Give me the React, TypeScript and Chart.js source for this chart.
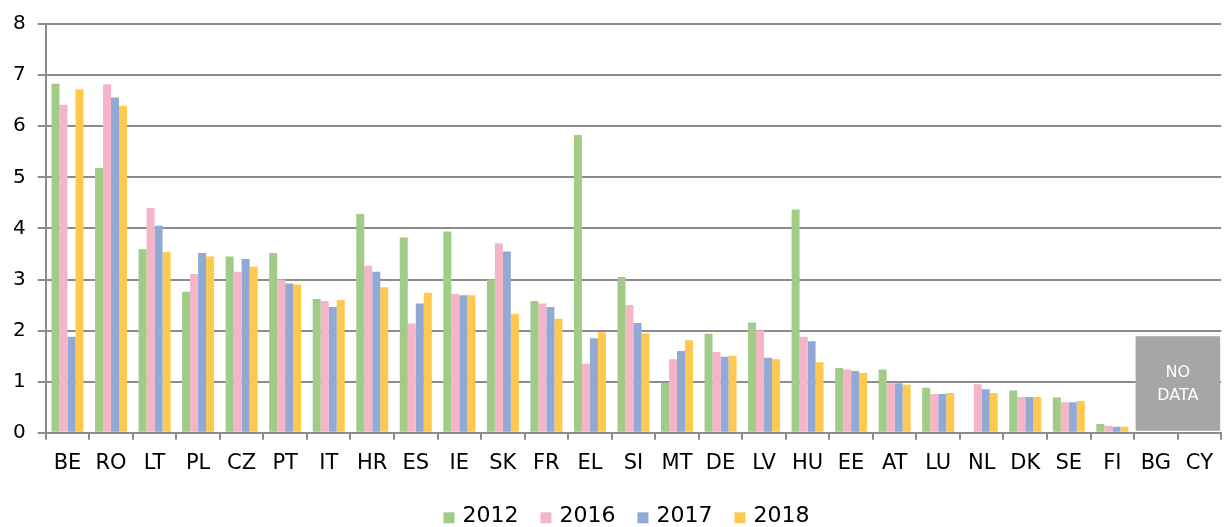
import React, { useEffect, useRef } from "react";
import { Chart, registerables } from "chart.js";

Chart.register(...registerables);

const categories = ["BE","RO","LT","PL","CZ","PT","IT","HR","ES","IE","SK","FR","EL","SI","MT","DE","LV","HU","EE","AT","LU","NL","DK","SE","FI","BG","CY"];
const s2012 = [6.83,5.18,3.59,2.76,3.45,3.52,2.62,4.28,3.82,3.94,3.0,2.58,5.83,3.05,0.98,1.94,2.16,4.37,1.27,1.24,0.88,null,0.83,0.69,0.17,null,null];
const s2016 = [6.42,6.82,4.40,3.11,3.15,3.00,2.58,3.27,2.14,2.72,3.71,2.53,1.35,2.50,1.44,1.58,2.00,1.88,1.24,0.97,0.76,0.95,0.70,0.60,0.14,null,null];
const s2017 = [1.88,6.56,4.05,3.52,3.40,2.92,2.46,3.15,2.53,2.69,3.55,2.46,1.85,2.15,1.60,1.49,1.47,1.79,1.21,0.97,0.76,0.85,0.70,0.60,0.12,null,null];
const s2018 = [6.72,6.40,3.54,3.45,3.25,2.90,2.60,2.85,2.74,2.69,2.33,2.23,1.97,1.95,1.81,1.51,1.44,1.38,1.17,0.94,0.78,0.78,0.70,0.62,0.12,null,null];
const seriesLabels = ["2012","2016","2017","2018"];
const seriesColors = ["#a1cc87","#f5b5c6","#90a9d5","#ffc84e"];
const yTicks = [0,1,2,3,4,5,6,7,8];
const noDataCategories = ["BG","CY"];
const noDataTop = 1.89;
const noDataText = ["NO","DATA"];

const FONT = "'DejaVu Sans', Verdana, sans-serif";
const W = 1224;
const H = 527;

const noDataPlugin = {
  id: "noData",
  afterDatasetsDraw(chart: any) {
    const x = chart.scales.x;
    const y = chart.scales.y;
    const ctx = chart.ctx;
    const catW = (x.right - x.left) / categories.length;
    const i0 = categories.indexOf(noDataCategories[0]);
    const i1 = categories.indexOf(noDataCategories[noDataCategories.length - 1]);
    const left = x.getPixelForValue(i0) - catW / 2 + 1.5;
    const right = x.getPixelForValue(i1) + catW / 2 - 1;
    const top = y.getPixelForValue(noDataTop);
    const bottom = y.getPixelForValue(0) - 2;
    ctx.save();
    ctx.fillStyle = "#a6a6a6";
    ctx.fillRect(left, top, right - left, bottom - top);
    ctx.fillStyle = "#ffffff";
    ctx.font = "16px " + FONT;
    ctx.textAlign = "center";
    ctx.textBaseline = "middle";
    const cx = (left + right) / 2;
    const cy = (top + bottom) / 2;
    ctx.fillText(noDataText[0], cx, cy - 11);
    ctx.fillText(noDataText[1], cx, cy + 12);
    ctx.restore();
  },
};

const legendPlugin = {
  id: "bottomLegend",
  afterDraw(chart: any) {
    const ctx = chart.ctx;
    const box = 11;
    const gap = 8;
    const spacing = 22;
    ctx.save();
    ctx.font = "22px " + FONT;
    const items = chart.data.datasets.map((ds: any) => ({
      label: ds.label,
      color: ds.backgroundColor,
      w: box + gap + ctx.measureText(ds.label).width,
    }));
    const total = items.reduce((a: number, it: any) => a + it.w, 0) + spacing * (items.length - 1);
    const ca = chart.chartArea;
    let x = (ca.left + ca.right) / 2 - 7 - total / 2;
    const cy = ca.bottom + 83;
    ctx.textBaseline = "middle";
    ctx.textAlign = "left";
    for (const it of items) {
      ctx.fillStyle = it.color;
      ctx.fillRect(x, cy - box / 2 + 2, box, box);
      ctx.fillStyle = "#000";
      ctx.fillText(it.label, x + box + gap, cy);
      x += it.w + spacing;
    }
    ctx.restore();
  },
};

export default function App() {
  const ref = useRef<HTMLCanvasElement>(null);
  useEffect(() => {
    if (!ref.current) return;
    const series = [s2012, s2016, s2017, s2018];
    const chart = new Chart(ref.current, {
      type: "bar",
      data: {
        labels: categories,
        datasets: series.map((d, i) => ({
          label: seriesLabels[i],
          data: d,
          backgroundColor: seriesColors[i],
          borderWidth: 0,
          categoryPercentage: 0.735,
          barPercentage: 1.0,
        })),
      },
      options: {
        animation: false,
        responsive: false,
        maintainAspectRatio: false,
        layout: { padding: { top: 9, right: 2, left: 1, bottom: 40 } },
        plugins: {
          legend: { display: false },
          tooltip: { enabled: false },
        },
        scales: {
          x: {
            grid: {
              offset: true,
              drawOnChartArea: false,
              drawTicks: true,
              tickLength: 7,
              color: "#8c8c8c",
              lineWidth: 2,
            },
            border: { color: "#8c8c8c", width: 2 },
            ticks: {
              color: "#000",
              font: { family: FONT, size: 21 },
              padding: 11,
              maxRotation: 0,
              autoSkip: false,
            },
          },
          y: {
            min: 0,
            max: 8,
            afterBuildTicks: (axis: any) => {
              axis.ticks = yTicks.map((v) => ({ value: v }));
            },
            grid: {
              color: "#8c8c8c",
              lineWidth: 2,
              tickLength: 8,
            },
            border: { color: "#8c8c8c", width: 2 },
            ticks: {
              color: "#000",
              font: { family: FONT, size: 20 },
              padding: 12,
            },
          },
        },
      },
      plugins: [noDataPlugin, legendPlugin],
    });
    return () => chart.destroy();
  }, []);
  return (
    <div style={{ position: "fixed", left: 0, top: 0, width: W, height: H, overflow: "hidden", background: "#fff" }}>
      <canvas ref={ref} width={W} height={H} style={{ width: W, height: H, display: "block" }} />
    </div>
  );
}
